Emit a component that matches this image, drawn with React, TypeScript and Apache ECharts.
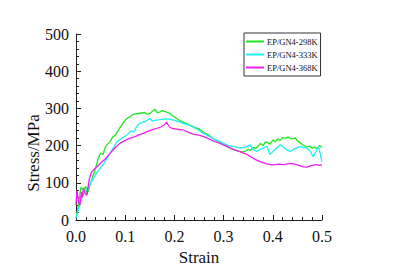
import React, { useEffect, useRef } from "react";
import * as echarts from "echarts";

const seriesNames = ["EP/GN4-298K", "EP/GN4-333K", "EP/GN4-368K"];
const seriesColors = ["#1ee81e", "#1ef0f8", "#f01ef0"];

const strain298 = [0, 0.005, 0.01, 0.015, 0.02, 0.022, 0.03, 0.04, 0.045, 0.05, 0.055, 0.06, 0.07, 0.075, 0.08, 0.09, 0.1, 0.105, 0.11, 0.115, 0.12, 0.13, 0.14, 0.145, 0.15, 0.155, 0.16, 0.165, 0.17, 0.175, 0.18, 0.19, 0.2, 0.21, 0.22, 0.23, 0.24, 0.25, 0.26, 0.27, 0.28, 0.29, 0.3, 0.31, 0.32, 0.33, 0.34, 0.345, 0.35, 0.355, 0.36, 0.365, 0.37, 0.375, 0.38, 0.385, 0.39, 0.395, 0.4, 0.405, 0.41, 0.415, 0.42, 0.425, 0.43, 0.435, 0.44, 0.445, 0.45, 0.455, 0.46, 0.465, 0.47, 0.475, 0.48, 0.485, 0.49, 0.495, 0.5];
const stress298 = [5, 40, 88, 82, 90, 67, 100, 140, 165, 180, 176, 198, 212, 224, 228, 250, 268, 274, 278, 283, 285, 287, 289, 284, 286, 292, 298, 289, 290, 294, 292, 287, 277, 268, 262, 256, 250, 245, 235, 228, 218, 210, 202, 195, 190, 185, 183, 186, 190, 187, 195, 192, 198, 206, 200, 210, 208, 204, 215, 210, 218, 214, 222, 219, 223, 220, 218, 221, 213, 208, 203, 199, 196, 199, 193, 196, 192, 200, 195];

const strain333 = [0, 0.005, 0.01, 0.015, 0.02, 0.028, 0.035, 0.045, 0.056, 0.065, 0.075, 0.083, 0.093, 0.103, 0.113, 0.118, 0.123, 0.128, 0.133, 0.142, 0.15, 0.155, 0.16, 0.171, 0.181, 0.191, 0.2, 0.21, 0.218, 0.23, 0.24, 0.249, 0.26, 0.27, 0.28, 0.29, 0.3, 0.31, 0.32, 0.333, 0.345, 0.354, 0.36, 0.367, 0.378, 0.388, 0.394, 0.405, 0.415, 0.425, 0.435, 0.445, 0.455, 0.469, 0.476, 0.482, 0.488, 0.493, 0.497, 0.5];
const stress333 = [5, 30, 50, 70, 80, 94, 112, 132, 150, 170, 192, 210, 220, 228, 240, 237, 251, 258, 262, 266, 273, 266, 268, 270, 272, 271, 268, 264, 260, 255, 248, 242, 232, 225, 218, 212, 206, 200, 197, 194, 196, 202, 190, 184, 192, 198, 176, 190, 202, 192, 184, 192, 197, 193, 185, 170, 185, 197, 175, 157];

const strain368 = [0, 0.002, 0.005, 0.008, 0.011, 0.013, 0.015, 0.019, 0.022, 0.027, 0.032, 0.04, 0.049, 0.058, 0.069, 0.08, 0.089, 0.1, 0.11, 0.12, 0.13, 0.137, 0.146, 0.155, 0.164, 0.172, 0.18, 0.184, 0.19, 0.196, 0.205, 0.218, 0.23, 0.24, 0.249, 0.26, 0.27, 0.28, 0.29, 0.3, 0.31, 0.32, 0.333, 0.345, 0.355, 0.367, 0.38, 0.39, 0.401, 0.412, 0.423, 0.435, 0.445, 0.455, 0.462, 0.47, 0.478, 0.488, 0.495, 0.5];
const stress368 = [40, 80, 50, 40, 75, 60, 85, 70, 67, 110, 130, 140, 152, 162, 179, 195, 206, 214, 220, 224, 230, 233, 238, 243, 246, 250, 256, 263, 250, 246, 244, 242, 235, 230, 228, 224, 218, 212, 207, 202, 196, 190, 184, 178, 170, 161, 154, 150, 148, 150, 149, 152, 150, 146, 143, 142, 146, 149, 147, 148];

const xTicks = [0, 0.1, 0.2, 0.3, 0.4, 0.5];
const yTicks = [0, 100, 200, 300, 400, 500];

function zip(xs: number[], ys: number[]) {
  return xs.map((x, i) => [x, ys[i]]);
}

export default function App() {
  const ref = useRef<HTMLDivElement>(null);
  useEffect(() => {
    document.body.style.margin = "0";
    const chart = echarts.init(ref.current!, null, { renderer: "svg" });
    const font = "Times New Roman";
    const axisCommon = {
      axisLine: { show: true, lineStyle: { color: "#222", width: 1 } },
      axisTick: { show: true, inside: true, length: 5, lineStyle: { color: "#222" } },
      minorTick: { show: true, splitNumber: 5, length: 3, lineStyle: { color: "#222" } },
      splitLine: { show: false },
    };
    const labelStyle = { color: "#111", fontFamily: font, fontSize: 16 };
    const datasets = [zip(strain298, stress298), zip(strain333, stress333), zip(strain368, stress368)];
    chart.setOption({
      animation: false,
      backgroundColor: "#fff",
      textStyle: { fontFamily: font },
      grid: { left: 76, right: 71, top: 34, bottom: 59 },
      xAxis: {
        type: "value",
        min: xTicks[0],
        max: xTicks[xTicks.length - 1],
        interval: 0.1,
        name: "Strain",
        nameLocation: "middle",
        nameGap: 28,
        nameTextStyle: { color: "#111", fontFamily: font, fontSize: 17 },
        ...axisCommon,
        axisLabel: { ...labelStyle, margin: 8, formatter: (v: number) => v.toFixed(1) },
      },
      yAxis: {
        type: "value",
        min: yTicks[0],
        max: yTicks[yTicks.length - 1],
        interval: 100,
        ...axisCommon,
        axisLabel: { ...labelStyle, margin: 7 },
      },
      legend: {
        left: 244,
        top: 33,
        orient: "vertical",
        itemWidth: 18,
        itemHeight: 2,
        itemGap: 4,
        padding: [4, 3, 4, 2],
        borderColor: "#333",
        borderWidth: 1,
        icon: "rect",
        textStyle: { fontFamily: font, fontSize: 8.5, color: "#111", padding: [0, 0, 0, -2] },
        data: seriesNames,
      },
      graphic: [
        {
          type: "text",
          x: 33,
          y: 153,
          rotation: Math.PI / 2,
          style: {
            text: "Stress/MPa",
            fontFamily: font,
            fontSize: 17,
            fill: "#111",
            align: "center",
            verticalAlign: "middle",
          },
        },
      ],
      series: seriesNames.map((name, i) => ({
        name,
        type: "line",
        data: datasets[i],
        showSymbol: false,
        symbol: "none",
        lineStyle: { color: seriesColors[i], width: 1.3 },
        itemStyle: { color: seriesColors[i] },
      })),
    });
    return () => chart.dispose();
  }, []);
  return <div ref={ref} style={{ width: 393, height: 279 }} />;
}
